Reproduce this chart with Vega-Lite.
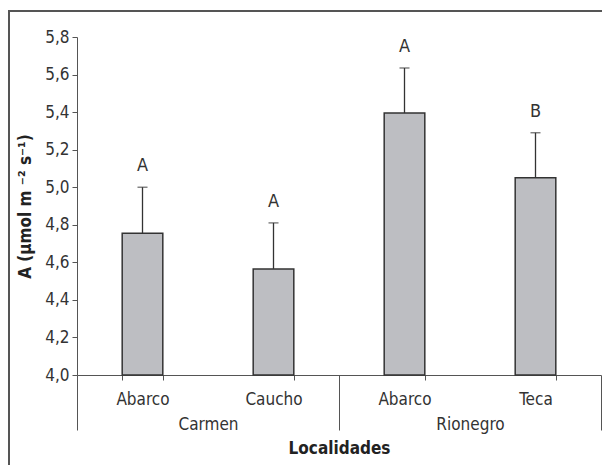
{
  "$schema": "https://vega.github.io/schema/vega-lite/v6.json",
  "width": 593,
  "height": 454,
  "autosize": {"type": "none"},
  "padding": {"left": 9, "top": 11, "right": 0, "bottom": 0},
  "background": "white",
  "config": {
    "view": {"stroke": "#555555", "strokeWidth": 2, "strokeDash": [593, 1047, 454]},
    "font": "DejaVu Sans Condensed, Liberation Sans, sans-serif",
    "axis": {
      "domainColor": "#555555",
      "tickColor": "#555555",
      "labelColor": "#333333",
      "titleColor": "#222222",
      "labelFont": "DejaVu Sans Condensed, Liberation Sans, sans-serif",
      "titleFont": "DejaVu Sans Condensed, Liberation Sans, sans-serif",
      "labelFontSize": 17,
      "titleFontSize": 17,
      "grid": false
    }
  },
  "data": {
    "values": [
      {"loc": "Carmen", "sp": "Abarco", "key": "Carmen-Abarco", "A": 4.755, "hi": 5.0, "letter": "A"},
      {"loc": "Carmen", "sp": "Caucho", "key": "Carmen-Caucho", "A": 4.565, "hi": 4.81, "letter": "A"},
      {"loc": "Rionegro", "sp": "Abarco", "key": "Rionegro-Abarco", "A": 5.395, "hi": 5.635, "letter": "A"},
      {"loc": "Rionegro", "sp": "Teca", "key": "Rionegro-Teca", "A": 5.05, "hi": 5.29, "letter": "B"}
    ]
  },
  "layer": [
    {
      "encoding": {
        "x": {
          "field": "key",
          "type": "nominal",
          "sort": null,
          "scale": {"range": [68, 592], "paddingInner": 0.69, "paddingOuter": 0.345},
          "axis": {
            "title": null,
            "offset": -90,
            "labelExpr": "split(datum.label, '-')[1]",
            "labelAngle": 0,
            "tickBand": "extent",
            "tickSize": 5,
            "labelPadding": 11,
            "domainWidth": 1
          }
        }
      },
      "layer": [
        {
          "mark": {"type": "bar", "fill": "#bdbec2", "stroke": "#333333", "strokeWidth": 1.5},
          "encoding": {
            "y": {
              "field": "A",
              "type": "quantitative",
              "scale": {"domain": [4.0, 5.8], "range": [364, 26], "zero": false, "nice": false},
              "axis": {
                "offset": -68,
                "values": [4.0, 4.2, 4.4, 4.6, 4.8, 5.0, 5.2, 5.4, 5.6, 5.8],
                "labelOverlap": false,
                "labelExpr": "replace(format(datum.value, '.1f'), '.', ',')",
                "tickSize": 5,
                "labelPadding": 3,
                "title": "A (μmol m ⁻² s⁻¹)",
                "titleFontWeight": "bold",
                "titleFontSize": 17,
                "titlePadding": 10
              }
            },
            "y2": {"datum": 4.0}
          }
        },
        {
          "mark": {"type": "rule", "color": "#333333", "strokeWidth": 1.3},
          "encoding": {
            "y": {"field": "A", "type": "quantitative"},
            "y2": {"field": "hi"}
          }
        },
        {
          "mark": {"type": "tick", "orient": "horizontal", "color": "#333333", "size": 10, "thickness": 1.3},
          "encoding": {
            "y": {"field": "hi", "type": "quantitative"}
          }
        },
        {
          "mark": {"type": "text", "baseline": "bottom", "dy": -12, "fontSize": 18, "color": "#333333"},
          "encoding": {
            "y": {"field": "hi", "type": "quantitative"},
            "text": {"field": "letter"}
          }
        }
      ]
    },
    {
      "mark": {"type": "point", "opacity": 0},
      "encoding": {
        "x": {
          "field": "loc",
          "type": "nominal",
          "sort": null,
          "scale": {"range": [68, 592], "paddingInner": 0, "paddingOuter": 0},
          "axis": {
            "orient": "bottom",
            "offset": -90,
            "domain": false,
            "labelAngle": 0,
            "tickBand": "extent",
            "tickSize": 55,
            "labelPadding": -14,
            "title": "Localidades",
            "titleFontWeight": "bold",
            "titleFontSize": 17,
            "titlePadding": 8
          }
        },
        "y": {"field": "A", "type": "quantitative"}
      }
    }
  ],
  "resolve": {"scale": {"x": "independent"}}
}
